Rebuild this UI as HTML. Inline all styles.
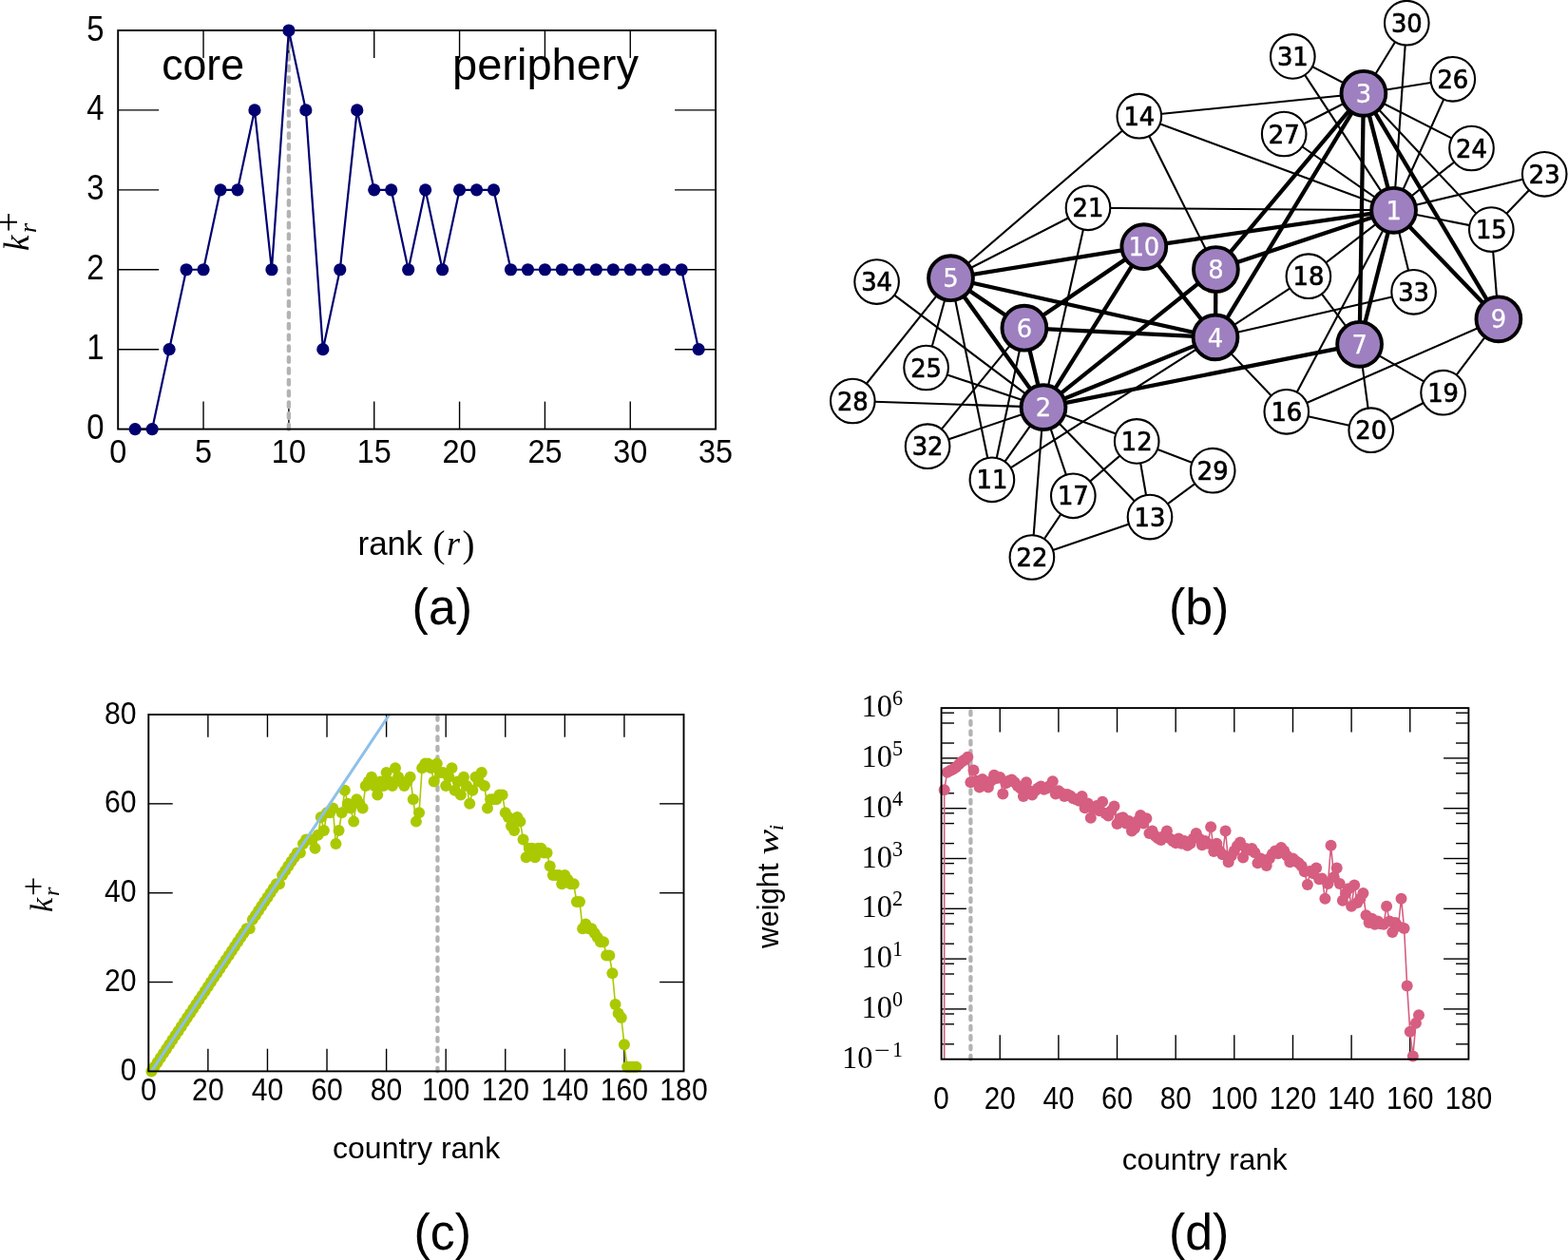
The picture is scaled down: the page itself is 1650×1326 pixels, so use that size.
<!DOCTYPE html>
<html><head><meta charset="utf-8"><title>Core-periphery figure</title>
<style>html,body{margin:0;padding:0;background:#fff;}svg{display:block;}</style></head>
<body><svg width="1650" height="1326" viewBox="0 0 1650 1326">
<rect width="1650" height="1326" fill="#fff"/>
<line x1="124.2" y1="367.68" x2="167.2" y2="367.68" stroke="#000" stroke-width="1.4" />
<line x1="753.1" y1="367.68" x2="710.1" y2="367.68" stroke="#000" stroke-width="1.4" />
<line x1="124.2" y1="283.76" x2="167.2" y2="283.76" stroke="#000" stroke-width="1.4" />
<line x1="753.1" y1="283.76" x2="710.1" y2="283.76" stroke="#000" stroke-width="1.4" />
<line x1="124.2" y1="199.84" x2="167.2" y2="199.84" stroke="#000" stroke-width="1.4" />
<line x1="753.1" y1="199.84" x2="710.1" y2="199.84" stroke="#000" stroke-width="1.4" />
<line x1="124.2" y1="115.92" x2="167.2" y2="115.92" stroke="#000" stroke-width="1.4" />
<line x1="753.1" y1="115.92" x2="710.1" y2="115.92" stroke="#000" stroke-width="1.4" />
<line x1="214.04" y1="451.6" x2="214.04" y2="422.6" stroke="#000" stroke-width="1.4" />
<line x1="214.04" y1="32" x2="214.04" y2="61" stroke="#000" stroke-width="1.4" />
<line x1="303.89" y1="451.6" x2="303.89" y2="422.6" stroke="#000" stroke-width="1.4" />
<line x1="303.89" y1="32" x2="303.89" y2="61" stroke="#000" stroke-width="1.4" />
<line x1="393.73" y1="451.6" x2="393.73" y2="422.6" stroke="#000" stroke-width="1.4" />
<line x1="393.73" y1="32" x2="393.73" y2="61" stroke="#000" stroke-width="1.4" />
<line x1="483.57" y1="451.6" x2="483.57" y2="422.6" stroke="#000" stroke-width="1.4" />
<line x1="483.57" y1="32" x2="483.57" y2="61" stroke="#000" stroke-width="1.4" />
<line x1="573.41" y1="451.6" x2="573.41" y2="422.6" stroke="#000" stroke-width="1.4" />
<line x1="573.41" y1="32" x2="573.41" y2="61" stroke="#000" stroke-width="1.4" />
<line x1="663.26" y1="451.6" x2="663.26" y2="422.6" stroke="#000" stroke-width="1.4" />
<line x1="663.26" y1="32" x2="663.26" y2="61" stroke="#000" stroke-width="1.4" />
<line x1="303.89" y1="451.6" x2="303.89" y2="32" stroke="#b3b3b3" stroke-width="4.4" stroke-dasharray="4.6 7.19" stroke-linecap="round"/>
<polyline points="142.17,451.6 160.14,451.6 178.11,367.68 196.07,283.76 214.04,283.76 232.01,199.84 249.98,199.84 267.95,115.92 285.92,283.76 303.89,32 321.85,115.92 339.82,367.68 357.79,283.76 375.76,115.92 393.73,199.84 411.7,199.84 429.67,283.76 447.63,199.84 465.6,283.76 483.57,199.84 501.54,199.84 519.51,199.84 537.48,283.76 555.45,283.76 573.41,283.76 591.38,283.76 609.35,283.76 627.32,283.76 645.29,283.76 663.26,283.76 681.23,283.76 699.19,283.76 717.16,283.76 735.13,367.68" fill="none" stroke="#000070" stroke-width="2.2" stroke-linejoin="round"/>
<rect x="124.2" y="32" width="628.9" height="419.6" fill="none" stroke="#000" stroke-width="1.9"/>
<circle cx="142.17" cy="451.6" r="6.6" fill="#000070"/>
<circle cx="160.14" cy="451.6" r="6.6" fill="#000070"/>
<circle cx="178.11" cy="367.68" r="6.6" fill="#000070"/>
<circle cx="196.07" cy="283.76" r="6.6" fill="#000070"/>
<circle cx="214.04" cy="283.76" r="6.6" fill="#000070"/>
<circle cx="232.01" cy="199.84" r="6.6" fill="#000070"/>
<circle cx="249.98" cy="199.84" r="6.6" fill="#000070"/>
<circle cx="267.95" cy="115.92" r="6.6" fill="#000070"/>
<circle cx="285.92" cy="283.76" r="6.6" fill="#000070"/>
<circle cx="303.89" cy="32" r="6.6" fill="#000070"/>
<circle cx="321.85" cy="115.92" r="6.6" fill="#000070"/>
<circle cx="339.82" cy="367.68" r="6.6" fill="#000070"/>
<circle cx="357.79" cy="283.76" r="6.6" fill="#000070"/>
<circle cx="375.76" cy="115.92" r="6.6" fill="#000070"/>
<circle cx="393.73" cy="199.84" r="6.6" fill="#000070"/>
<circle cx="411.7" cy="199.84" r="6.6" fill="#000070"/>
<circle cx="429.67" cy="283.76" r="6.6" fill="#000070"/>
<circle cx="447.63" cy="199.84" r="6.6" fill="#000070"/>
<circle cx="465.6" cy="283.76" r="6.6" fill="#000070"/>
<circle cx="483.57" cy="199.84" r="6.6" fill="#000070"/>
<circle cx="501.54" cy="199.84" r="6.6" fill="#000070"/>
<circle cx="519.51" cy="199.84" r="6.6" fill="#000070"/>
<circle cx="537.48" cy="283.76" r="6.6" fill="#000070"/>
<circle cx="555.45" cy="283.76" r="6.6" fill="#000070"/>
<circle cx="573.41" cy="283.76" r="6.6" fill="#000070"/>
<circle cx="591.38" cy="283.76" r="6.6" fill="#000070"/>
<circle cx="609.35" cy="283.76" r="6.6" fill="#000070"/>
<circle cx="627.32" cy="283.76" r="6.6" fill="#000070"/>
<circle cx="645.29" cy="283.76" r="6.6" fill="#000070"/>
<circle cx="663.26" cy="283.76" r="6.6" fill="#000070"/>
<circle cx="681.23" cy="283.76" r="6.6" fill="#000070"/>
<circle cx="699.19" cy="283.76" r="6.6" fill="#000070"/>
<circle cx="717.16" cy="283.76" r="6.6" fill="#000070"/>
<circle cx="735.13" cy="367.68" r="6.6" fill="#000070"/>
<text transform="translate(109.6,462.1) scale(0.9,1)" font-size="36.5" text-anchor="end" font-family="'Liberation Sans', sans-serif" >0</text>
<text transform="translate(109.6,378.18) scale(0.9,1)" font-size="36.5" text-anchor="end" font-family="'Liberation Sans', sans-serif" >1</text>
<text transform="translate(109.6,294.26) scale(0.9,1)" font-size="36.5" text-anchor="end" font-family="'Liberation Sans', sans-serif" >2</text>
<text transform="translate(109.6,210.34) scale(0.9,1)" font-size="36.5" text-anchor="end" font-family="'Liberation Sans', sans-serif" >3</text>
<text transform="translate(109.6,126.42) scale(0.9,1)" font-size="36.5" text-anchor="end" font-family="'Liberation Sans', sans-serif" >4</text>
<text transform="translate(109.6,42.5) scale(0.9,1)" font-size="36.5" text-anchor="end" font-family="'Liberation Sans', sans-serif" >5</text>
<text transform="translate(124.2,487.2) scale(0.9,1)" font-size="36" text-anchor="middle" font-family="'Liberation Sans', sans-serif" >0</text>
<text transform="translate(214.04,487.2) scale(0.9,1)" font-size="36" text-anchor="middle" font-family="'Liberation Sans', sans-serif" >5</text>
<text transform="translate(303.89,487.2) scale(0.9,1)" font-size="36" text-anchor="middle" font-family="'Liberation Sans', sans-serif" >10</text>
<text transform="translate(393.73,487.2) scale(0.9,1)" font-size="36" text-anchor="middle" font-family="'Liberation Sans', sans-serif" >15</text>
<text transform="translate(483.57,487.2) scale(0.9,1)" font-size="36" text-anchor="middle" font-family="'Liberation Sans', sans-serif" >20</text>
<text transform="translate(573.41,487.2) scale(0.9,1)" font-size="36" text-anchor="middle" font-family="'Liberation Sans', sans-serif" >25</text>
<text transform="translate(663.26,487.2) scale(0.9,1)" font-size="36" text-anchor="middle" font-family="'Liberation Sans', sans-serif" >30</text>
<text transform="translate(753.1,487.2) scale(0.9,1)" font-size="36" text-anchor="middle" font-family="'Liberation Sans', sans-serif" >35</text>
<text transform="translate(213.6,84) scale(0.95,1)" font-size="47" text-anchor="middle" font-family="'Liberation Sans', sans-serif" >core</text>
<text x="574" y="84" font-size="47" text-anchor="middle" font-family="'Liberation Sans', sans-serif" >periphery</text>
<text x="376.5" y="584" font-size="35" text-anchor="start" font-family="'Liberation Sans', sans-serif" >rank</text>
<text x="455.5" y="585.5" font-size="39" text-anchor="start" font-family="'Liberation Serif', serif" >(</text>
<text x="470" y="584" font-size="36" text-anchor="start" font-family="'Liberation Serif', serif" font-style="italic">r</text>
<text x="486.5" y="585.5" font-size="39" text-anchor="start" font-family="'Liberation Serif', serif" >)</text>
<text transform="translate(465.3,657.3) scale(0.96,1)" font-size="54" text-anchor="middle" font-family="'Liberation Sans', sans-serif" >(a)</text>
<g transform="translate(30,264) rotate(-90)"><text x="0" y="0" font-size="37" font-family="'Liberation Serif', serif" font-style="italic">k</text><text x="19" y="8" font-size="26" font-family="'Liberation Serif', serif" font-style="italic">r</text><text x="19.5" y="-8.5" font-size="38" font-family="'Liberation Serif', serif">+</text></g>
<line x1="1098" y1="428.6" x2="1085.9" y2="586.5" stroke="#000" stroke-width="2.1" />
<line x1="1098" y1="428.6" x2="1196.2" y2="464.4" stroke="#000" stroke-width="2.1" />
<line x1="1098" y1="428.6" x2="1210" y2="544.1" stroke="#000" stroke-width="2.1" />
<line x1="1098" y1="428.6" x2="1043.9" y2="504.8" stroke="#000" stroke-width="2.1" />
<line x1="1098" y1="428.6" x2="1129.3" y2="521.8" stroke="#000" stroke-width="2.1" />
<line x1="1098" y1="428.6" x2="922.6" y2="296.6" stroke="#000" stroke-width="2.1" />
<line x1="1098" y1="428.6" x2="976.1" y2="469.7" stroke="#000" stroke-width="2.1" />
<line x1="1098" y1="428.6" x2="974.6" y2="387" stroke="#000" stroke-width="2.1" />
<line x1="1098" y1="428.6" x2="1145" y2="218.8" stroke="#000" stroke-width="2.1" />
<line x1="1098" y1="428.6" x2="897.3" y2="422" stroke="#000" stroke-width="2.1" />
<line x1="1000.5" y1="292.7" x2="1043.9" y2="504.8" stroke="#000" stroke-width="2.1" />
<line x1="1000.5" y1="292.7" x2="974.6" y2="387" stroke="#000" stroke-width="2.1" />
<line x1="1000.5" y1="292.7" x2="1145" y2="218.8" stroke="#000" stroke-width="2.1" />
<line x1="1000.5" y1="292.7" x2="897.3" y2="422" stroke="#000" stroke-width="2.1" />
<line x1="1000.5" y1="292.7" x2="1198.8" y2="122.2" stroke="#000" stroke-width="2.1" />
<line x1="1279" y1="354.9" x2="1043.9" y2="504.8" stroke="#000" stroke-width="2.1" />
<line x1="1279" y1="354.9" x2="1487.6" y2="307.3" stroke="#000" stroke-width="2.1" />
<line x1="1279" y1="354.9" x2="1353.8" y2="433.3" stroke="#000" stroke-width="2.1" />
<line x1="1279" y1="354.9" x2="1376.9" y2="290.7" stroke="#000" stroke-width="2.1" />
<line x1="1077.9" y1="345.2" x2="1043.9" y2="504.8" stroke="#000" stroke-width="2.1" />
<line x1="1077.9" y1="345.2" x2="976.1" y2="469.7" stroke="#000" stroke-width="2.1" />
<line x1="1085.9" y1="586.5" x2="1210" y2="544.1" stroke="#000" stroke-width="2.1" />
<line x1="1085.9" y1="586.5" x2="1129.3" y2="521.8" stroke="#000" stroke-width="2.1" />
<line x1="1196.2" y1="464.4" x2="1210" y2="544.1" stroke="#000" stroke-width="2.1" />
<line x1="1196.2" y1="464.4" x2="1129.3" y2="521.8" stroke="#000" stroke-width="2.1" />
<line x1="1196.2" y1="464.4" x2="1276.2" y2="495.2" stroke="#000" stroke-width="2.1" />
<line x1="1210" y1="544.1" x2="1276.2" y2="495.2" stroke="#000" stroke-width="2.1" />
<line x1="1279.4" y1="283.5" x2="1198.8" y2="122.2" stroke="#000" stroke-width="2.1" />
<line x1="1487.6" y1="307.3" x2="1466.6" y2="221.3" stroke="#000" stroke-width="2.1" />
<line x1="1548.5" y1="156" x2="1434.9" y2="98.3" stroke="#000" stroke-width="2.1" />
<line x1="1548.5" y1="156" x2="1466.6" y2="221.3" stroke="#000" stroke-width="2.1" />
<line x1="1528.8" y1="83.3" x2="1434.9" y2="98.3" stroke="#000" stroke-width="2.1" />
<line x1="1528.8" y1="83.3" x2="1466.6" y2="221.3" stroke="#000" stroke-width="2.1" />
<line x1="1351.2" y1="141" x2="1434.9" y2="98.3" stroke="#000" stroke-width="2.1" />
<line x1="1351.2" y1="141" x2="1466.6" y2="221.3" stroke="#000" stroke-width="2.1" />
<line x1="1145" y1="218.8" x2="1466.6" y2="221.3" stroke="#000" stroke-width="2.1" />
<line x1="1480.3" y1="24.2" x2="1434.9" y2="98.3" stroke="#000" stroke-width="2.1" />
<line x1="1480.3" y1="24.2" x2="1466.6" y2="221.3" stroke="#000" stroke-width="2.1" />
<line x1="1360.3" y1="59.4" x2="1434.9" y2="98.3" stroke="#000" stroke-width="2.1" />
<line x1="1360.3" y1="59.4" x2="1466.6" y2="221.3" stroke="#000" stroke-width="2.1" />
<line x1="1576.9" y1="335.8" x2="1518.6" y2="413.2" stroke="#000" stroke-width="2.1" />
<line x1="1576.9" y1="335.8" x2="1353.8" y2="433.3" stroke="#000" stroke-width="2.1" />
<line x1="1576.9" y1="335.8" x2="1569.3" y2="241.6" stroke="#000" stroke-width="2.1" />
<line x1="1442.7" y1="452.7" x2="1518.6" y2="413.2" stroke="#000" stroke-width="2.1" />
<line x1="1442.7" y1="452.7" x2="1353.8" y2="433.3" stroke="#000" stroke-width="2.1" />
<line x1="1442.7" y1="452.7" x2="1430.6" y2="362.3" stroke="#000" stroke-width="2.1" />
<line x1="1518.6" y1="413.2" x2="1430.6" y2="362.3" stroke="#000" stroke-width="2.1" />
<line x1="1625.2" y1="183.3" x2="1569.3" y2="241.6" stroke="#000" stroke-width="2.1" />
<line x1="1625.2" y1="183.3" x2="1466.6" y2="221.3" stroke="#000" stroke-width="2.1" />
<line x1="1353.8" y1="433.3" x2="1466.6" y2="221.3" stroke="#000" stroke-width="2.1" />
<line x1="1376.9" y1="290.7" x2="1430.6" y2="362.3" stroke="#000" stroke-width="2.1" />
<line x1="1376.9" y1="290.7" x2="1466.6" y2="221.3" stroke="#000" stroke-width="2.1" />
<line x1="1569.3" y1="241.6" x2="1434.9" y2="98.3" stroke="#000" stroke-width="2.1" />
<line x1="1569.3" y1="241.6" x2="1466.6" y2="221.3" stroke="#000" stroke-width="2.1" />
<line x1="1198.8" y1="122.2" x2="1434.9" y2="98.3" stroke="#000" stroke-width="2.1" />
<line x1="1198.8" y1="122.2" x2="1466.6" y2="221.3" stroke="#000" stroke-width="2.1" />
<line x1="1098" y1="428.6" x2="1000.5" y2="292.7" stroke="#000" stroke-width="4.3" />
<line x1="1098" y1="428.6" x2="1279" y2="354.9" stroke="#000" stroke-width="4.3" />
<line x1="1098" y1="428.6" x2="1077.9" y2="345.2" stroke="#000" stroke-width="4.3" />
<line x1="1098" y1="428.6" x2="1279.4" y2="283.5" stroke="#000" stroke-width="4.3" />
<line x1="1098" y1="428.6" x2="1203.8" y2="259.6" stroke="#000" stroke-width="4.3" />
<line x1="1098" y1="428.6" x2="1430.6" y2="362.3" stroke="#000" stroke-width="4.3" />
<line x1="1000.5" y1="292.7" x2="1279" y2="354.9" stroke="#000" stroke-width="4.3" />
<line x1="1000.5" y1="292.7" x2="1077.9" y2="345.2" stroke="#000" stroke-width="4.3" />
<line x1="1000.5" y1="292.7" x2="1203.8" y2="259.6" stroke="#000" stroke-width="4.3" />
<line x1="1279" y1="354.9" x2="1077.9" y2="345.2" stroke="#000" stroke-width="4.3" />
<line x1="1279" y1="354.9" x2="1279.4" y2="283.5" stroke="#000" stroke-width="4.3" />
<line x1="1279" y1="354.9" x2="1203.8" y2="259.6" stroke="#000" stroke-width="4.3" />
<line x1="1279" y1="354.9" x2="1434.9" y2="98.3" stroke="#000" stroke-width="4.3" />
<line x1="1077.9" y1="345.2" x2="1203.8" y2="259.6" stroke="#000" stroke-width="4.3" />
<line x1="1279.4" y1="283.5" x2="1434.9" y2="98.3" stroke="#000" stroke-width="4.3" />
<line x1="1279.4" y1="283.5" x2="1466.6" y2="221.3" stroke="#000" stroke-width="4.3" />
<line x1="1203.8" y1="259.6" x2="1466.6" y2="221.3" stroke="#000" stroke-width="4.3" />
<line x1="1576.9" y1="335.8" x2="1434.9" y2="98.3" stroke="#000" stroke-width="4.3" />
<line x1="1576.9" y1="335.8" x2="1466.6" y2="221.3" stroke="#000" stroke-width="4.3" />
<line x1="1430.6" y1="362.3" x2="1434.9" y2="98.3" stroke="#000" stroke-width="4.3" />
<line x1="1430.6" y1="362.3" x2="1466.6" y2="221.3" stroke="#000" stroke-width="4.3" />
<line x1="1434.9" y1="98.3" x2="1466.6" y2="221.3" stroke="#000" stroke-width="4.3" />
<circle cx="1466.6" cy="221.3" r="23.4" fill="#9e80c0" stroke="#000" stroke-width="3.9"/>
<text x="1466.6" y="230.9" font-size="25.8" text-anchor="middle" font-family="'DejaVu Sans', sans-serif" fill="#fff" stroke="#fff" stroke-width="0.25">1</text>
<circle cx="1098" cy="428.6" r="23.4" fill="#9e80c0" stroke="#000" stroke-width="3.9"/>
<text x="1098" y="438.2" font-size="25.8" text-anchor="middle" font-family="'DejaVu Sans', sans-serif" fill="#fff" stroke="#fff" stroke-width="0.25">2</text>
<circle cx="1434.9" cy="98.3" r="23.4" fill="#9e80c0" stroke="#000" stroke-width="3.9"/>
<text x="1434.9" y="107.9" font-size="25.8" text-anchor="middle" font-family="'DejaVu Sans', sans-serif" fill="#fff" stroke="#fff" stroke-width="0.25">3</text>
<circle cx="1279" cy="354.9" r="23.4" fill="#9e80c0" stroke="#000" stroke-width="3.9"/>
<text x="1279" y="364.5" font-size="25.8" text-anchor="middle" font-family="'DejaVu Sans', sans-serif" fill="#fff" stroke="#fff" stroke-width="0.25">4</text>
<circle cx="1000.5" cy="292.7" r="23.4" fill="#9e80c0" stroke="#000" stroke-width="3.9"/>
<text x="1000.5" y="302.3" font-size="25.8" text-anchor="middle" font-family="'DejaVu Sans', sans-serif" fill="#fff" stroke="#fff" stroke-width="0.25">5</text>
<circle cx="1077.9" cy="345.2" r="23.4" fill="#9e80c0" stroke="#000" stroke-width="3.9"/>
<text x="1077.9" y="354.8" font-size="25.8" text-anchor="middle" font-family="'DejaVu Sans', sans-serif" fill="#fff" stroke="#fff" stroke-width="0.25">6</text>
<circle cx="1430.6" cy="362.3" r="23.4" fill="#9e80c0" stroke="#000" stroke-width="3.9"/>
<text x="1430.6" y="371.9" font-size="25.8" text-anchor="middle" font-family="'DejaVu Sans', sans-serif" fill="#fff" stroke="#fff" stroke-width="0.25">7</text>
<circle cx="1279.4" cy="283.5" r="23.4" fill="#9e80c0" stroke="#000" stroke-width="3.9"/>
<text x="1279.4" y="293.1" font-size="25.8" text-anchor="middle" font-family="'DejaVu Sans', sans-serif" fill="#fff" stroke="#fff" stroke-width="0.25">8</text>
<circle cx="1576.9" cy="335.8" r="23.4" fill="#9e80c0" stroke="#000" stroke-width="3.9"/>
<text x="1576.9" y="345.4" font-size="25.8" text-anchor="middle" font-family="'DejaVu Sans', sans-serif" fill="#fff" stroke="#fff" stroke-width="0.25">9</text>
<circle cx="1203.8" cy="259.6" r="23.4" fill="#9e80c0" stroke="#000" stroke-width="3.9"/>
<text x="1203.8" y="269.2" font-size="25.8" text-anchor="middle" font-family="'DejaVu Sans', sans-serif" fill="#fff" stroke="#fff" stroke-width="0.25">10</text>
<circle cx="1043.9" cy="504.8" r="23.3" fill="#fff" stroke="#000" stroke-width="2.1"/>
<text x="1043.9" y="514.4" font-size="25.8" text-anchor="middle" font-family="'DejaVu Sans', sans-serif" fill="#000" stroke="#000" stroke-width="0.7">11</text>
<circle cx="1196.2" cy="464.4" r="23.3" fill="#fff" stroke="#000" stroke-width="2.1"/>
<text x="1196.2" y="474" font-size="25.8" text-anchor="middle" font-family="'DejaVu Sans', sans-serif" fill="#000" stroke="#000" stroke-width="0.7">12</text>
<circle cx="1210" cy="544.1" r="23.3" fill="#fff" stroke="#000" stroke-width="2.1"/>
<text x="1210" y="553.7" font-size="25.8" text-anchor="middle" font-family="'DejaVu Sans', sans-serif" fill="#000" stroke="#000" stroke-width="0.7">13</text>
<circle cx="1198.8" cy="122.2" r="23.3" fill="#fff" stroke="#000" stroke-width="2.1"/>
<text x="1198.8" y="131.8" font-size="25.8" text-anchor="middle" font-family="'DejaVu Sans', sans-serif" fill="#000" stroke="#000" stroke-width="0.7">14</text>
<circle cx="1569.3" cy="241.6" r="23.3" fill="#fff" stroke="#000" stroke-width="2.1"/>
<text x="1569.3" y="251.2" font-size="25.8" text-anchor="middle" font-family="'DejaVu Sans', sans-serif" fill="#000" stroke="#000" stroke-width="0.7">15</text>
<circle cx="1353.8" cy="433.3" r="23.3" fill="#fff" stroke="#000" stroke-width="2.1"/>
<text x="1353.8" y="442.9" font-size="25.8" text-anchor="middle" font-family="'DejaVu Sans', sans-serif" fill="#000" stroke="#000" stroke-width="0.7">16</text>
<circle cx="1129.3" cy="521.8" r="23.3" fill="#fff" stroke="#000" stroke-width="2.1"/>
<text x="1129.3" y="531.4" font-size="25.8" text-anchor="middle" font-family="'DejaVu Sans', sans-serif" fill="#000" stroke="#000" stroke-width="0.7">17</text>
<circle cx="1376.9" cy="290.7" r="23.3" fill="#fff" stroke="#000" stroke-width="2.1"/>
<text x="1376.9" y="300.3" font-size="25.8" text-anchor="middle" font-family="'DejaVu Sans', sans-serif" fill="#000" stroke="#000" stroke-width="0.7">18</text>
<circle cx="1518.6" cy="413.2" r="23.3" fill="#fff" stroke="#000" stroke-width="2.1"/>
<text x="1518.6" y="422.8" font-size="25.8" text-anchor="middle" font-family="'DejaVu Sans', sans-serif" fill="#000" stroke="#000" stroke-width="0.7">19</text>
<circle cx="1442.7" cy="452.7" r="23.3" fill="#fff" stroke="#000" stroke-width="2.1"/>
<text x="1442.7" y="462.3" font-size="25.8" text-anchor="middle" font-family="'DejaVu Sans', sans-serif" fill="#000" stroke="#000" stroke-width="0.7">20</text>
<circle cx="1145" cy="218.8" r="23.3" fill="#fff" stroke="#000" stroke-width="2.1"/>
<text x="1145" y="228.4" font-size="25.8" text-anchor="middle" font-family="'DejaVu Sans', sans-serif" fill="#000" stroke="#000" stroke-width="0.7">21</text>
<circle cx="1085.9" cy="586.5" r="23.3" fill="#fff" stroke="#000" stroke-width="2.1"/>
<text x="1085.9" y="596.1" font-size="25.8" text-anchor="middle" font-family="'DejaVu Sans', sans-serif" fill="#000" stroke="#000" stroke-width="0.7">22</text>
<circle cx="1625.2" cy="183.3" r="23.3" fill="#fff" stroke="#000" stroke-width="2.1"/>
<text x="1625.2" y="192.9" font-size="25.8" text-anchor="middle" font-family="'DejaVu Sans', sans-serif" fill="#000" stroke="#000" stroke-width="0.7">23</text>
<circle cx="1548.5" cy="156" r="23.3" fill="#fff" stroke="#000" stroke-width="2.1"/>
<text x="1548.5" y="165.6" font-size="25.8" text-anchor="middle" font-family="'DejaVu Sans', sans-serif" fill="#000" stroke="#000" stroke-width="0.7">24</text>
<circle cx="974.6" cy="387" r="23.3" fill="#fff" stroke="#000" stroke-width="2.1"/>
<text x="974.6" y="396.6" font-size="25.8" text-anchor="middle" font-family="'DejaVu Sans', sans-serif" fill="#000" stroke="#000" stroke-width="0.7">25</text>
<circle cx="1528.8" cy="83.3" r="23.3" fill="#fff" stroke="#000" stroke-width="2.1"/>
<text x="1528.8" y="92.9" font-size="25.8" text-anchor="middle" font-family="'DejaVu Sans', sans-serif" fill="#000" stroke="#000" stroke-width="0.7">26</text>
<circle cx="1351.2" cy="141" r="23.3" fill="#fff" stroke="#000" stroke-width="2.1"/>
<text x="1351.2" y="150.6" font-size="25.8" text-anchor="middle" font-family="'DejaVu Sans', sans-serif" fill="#000" stroke="#000" stroke-width="0.7">27</text>
<circle cx="897.3" cy="422" r="23.3" fill="#fff" stroke="#000" stroke-width="2.1"/>
<text x="897.3" y="431.6" font-size="25.8" text-anchor="middle" font-family="'DejaVu Sans', sans-serif" fill="#000" stroke="#000" stroke-width="0.7">28</text>
<circle cx="1276.2" cy="495.2" r="23.3" fill="#fff" stroke="#000" stroke-width="2.1"/>
<text x="1276.2" y="504.8" font-size="25.8" text-anchor="middle" font-family="'DejaVu Sans', sans-serif" fill="#000" stroke="#000" stroke-width="0.7">29</text>
<circle cx="1480.3" cy="24.2" r="23.3" fill="#fff" stroke="#000" stroke-width="2.1"/>
<text x="1480.3" y="33.8" font-size="25.8" text-anchor="middle" font-family="'DejaVu Sans', sans-serif" fill="#000" stroke="#000" stroke-width="0.7">30</text>
<circle cx="1360.3" cy="59.4" r="23.3" fill="#fff" stroke="#000" stroke-width="2.1"/>
<text x="1360.3" y="69" font-size="25.8" text-anchor="middle" font-family="'DejaVu Sans', sans-serif" fill="#000" stroke="#000" stroke-width="0.7">31</text>
<circle cx="976.1" cy="469.7" r="23.3" fill="#fff" stroke="#000" stroke-width="2.1"/>
<text x="976.1" y="479.3" font-size="25.8" text-anchor="middle" font-family="'DejaVu Sans', sans-serif" fill="#000" stroke="#000" stroke-width="0.7">32</text>
<circle cx="1487.6" cy="307.3" r="23.3" fill="#fff" stroke="#000" stroke-width="2.1"/>
<text x="1487.6" y="316.9" font-size="25.8" text-anchor="middle" font-family="'DejaVu Sans', sans-serif" fill="#000" stroke="#000" stroke-width="0.7">33</text>
<circle cx="922.6" cy="296.6" r="23.3" fill="#fff" stroke="#000" stroke-width="2.1"/>
<text x="922.6" y="306.2" font-size="25.8" text-anchor="middle" font-family="'DejaVu Sans', sans-serif" fill="#000" stroke="#000" stroke-width="0.7">34</text>
<text transform="translate(1261.7,657.3) scale(0.96,1)" font-size="54" text-anchor="middle" font-family="'Liberation Sans', sans-serif" >(b)</text>
<line x1="156.3" y1="1033.55" x2="181.7" y2="1033.55" stroke="#000" stroke-width="1.4" />
<line x1="719.5" y1="1033.55" x2="694.1" y2="1033.55" stroke="#000" stroke-width="1.4" />
<line x1="156.3" y1="939.7" x2="181.7" y2="939.7" stroke="#000" stroke-width="1.4" />
<line x1="719.5" y1="939.7" x2="694.1" y2="939.7" stroke="#000" stroke-width="1.4" />
<line x1="156.3" y1="845.85" x2="181.7" y2="845.85" stroke="#000" stroke-width="1.4" />
<line x1="719.5" y1="845.85" x2="694.1" y2="845.85" stroke="#000" stroke-width="1.4" />
<line x1="218.88" y1="1127.4" x2="218.88" y2="1103.7" stroke="#000" stroke-width="1.4" />
<line x1="218.88" y1="752" x2="218.88" y2="775.7" stroke="#000" stroke-width="1.4" />
<line x1="281.46" y1="1127.4" x2="281.46" y2="1103.7" stroke="#000" stroke-width="1.4" />
<line x1="281.46" y1="752" x2="281.46" y2="775.7" stroke="#000" stroke-width="1.4" />
<line x1="344.03" y1="1127.4" x2="344.03" y2="1103.7" stroke="#000" stroke-width="1.4" />
<line x1="344.03" y1="752" x2="344.03" y2="775.7" stroke="#000" stroke-width="1.4" />
<line x1="406.61" y1="1127.4" x2="406.61" y2="1103.7" stroke="#000" stroke-width="1.4" />
<line x1="406.61" y1="752" x2="406.61" y2="775.7" stroke="#000" stroke-width="1.4" />
<line x1="469.19" y1="1127.4" x2="469.19" y2="1103.7" stroke="#000" stroke-width="1.4" />
<line x1="469.19" y1="752" x2="469.19" y2="775.7" stroke="#000" stroke-width="1.4" />
<line x1="531.77" y1="1127.4" x2="531.77" y2="1103.7" stroke="#000" stroke-width="1.4" />
<line x1="531.77" y1="752" x2="531.77" y2="775.7" stroke="#000" stroke-width="1.4" />
<line x1="594.34" y1="1127.4" x2="594.34" y2="1103.7" stroke="#000" stroke-width="1.4" />
<line x1="594.34" y1="752" x2="594.34" y2="775.7" stroke="#000" stroke-width="1.4" />
<line x1="656.92" y1="1127.4" x2="656.92" y2="1103.7" stroke="#000" stroke-width="1.4" />
<line x1="656.92" y1="752" x2="656.92" y2="775.7" stroke="#000" stroke-width="1.4" />
<line x1="460.43" y1="1127.4" x2="460.43" y2="752" stroke="#b3b3b3" stroke-width="4.3" stroke-dasharray="3.6 6.96" stroke-linecap="round"/>
<polyline points="159.43,1127.4 162.56,1122.71 165.69,1118.02 168.82,1113.32 171.94,1108.63 175.07,1103.94 178.2,1099.25 181.33,1094.55 184.46,1089.86 187.59,1085.17 190.72,1080.48 193.85,1075.78 196.98,1071.09 200.1,1066.4 203.23,1061.71 206.36,1057.01 209.49,1052.32 212.62,1047.63 215.75,1042.94 218.88,1038.24 222.01,1033.55 225.14,1028.86 228.26,1024.16 231.39,1019.47 234.52,1014.78 237.65,1010.09 240.78,1005.4 243.91,1000.7 247.04,996.01 250.17,991.32 253.3,986.62 256.42,981.93 259.55,977.24 262.68,977.24 265.81,967.86 268.94,963.16 272.07,958.47 275.2,953.78 278.33,949.09 281.46,944.39 284.58,939.7 287.71,935.01 290.84,930.32 293.97,930.32 297.1,920.93 300.23,916.24 303.36,911.55 306.49,906.85 309.62,902.16 312.74,897.47 315.87,897.47 319,888.08 322.13,883.39 325.26,883.39 328.39,883.39 331.52,892.78 334.65,878.7 337.78,859.93 340.9,874 344.03,855.24 347.16,855.24 350.29,850.54 353.42,888.08 356.55,874 359.68,855.24 362.81,831.77 365.94,845.85 369.06,850.54 372.19,864.62 375.32,841.16 378.45,845.85 381.58,850.54 384.71,827.08 387.84,822.39 390.97,817.7 394.1,827.08 397.22,836.47 400.35,822.39 403.48,827.08 406.61,813 409.74,822.39 412.87,827.08 416,808.31 419.13,817.7 422.26,822.39 425.38,827.08 428.51,822.39 431.64,817.7 434.77,841.16 437.9,864.62 441.03,855.24 444.16,808.31 447.29,803.62 450.42,803.62 453.54,808.31 456.67,822.39 459.8,803.62 462.93,813 466.06,813 469.19,827.08 472.32,817.7 475.45,808.31 478.58,831.77 481.7,822.39 484.83,836.47 487.96,817.7 491.09,827.08 494.22,845.85 497.35,831.77 500.48,817.7 503.61,822.39 506.74,813 509.86,827.08 512.99,850.54 516.12,841.16 519.25,841.16 522.38,841.16 525.51,836.47 528.64,836.47 531.77,855.24 534.9,859.93 538.02,869.31 541.15,874 544.28,859.93 547.41,864.62 550.54,883.39 553.67,902.16 556.8,892.78 559.93,892.78 563.06,902.16 566.18,892.78 569.31,892.78 572.44,897.47 575.57,897.47 578.7,911.55 581.83,920.93 584.96,920.93 588.09,920.93 591.22,930.32 594.34,920.93 597.47,925.62 600.6,930.32 603.73,930.32 606.86,949.09 609.99,949.09 613.12,977.24 616.25,972.55 619.38,977.24 622.5,977.24 625.63,981.93 628.76,986.62 631.89,991.32 635.02,991.32 638.15,1005.4 641.28,1005.4 644.41,1024.16 647.54,1057.01 650.66,1066.4 653.79,1071.09 656.92,1099.25 660.05,1122.71 663.18,1122.71 666.31,1122.71 669.44,1122.71" fill="none" stroke="#abc900" stroke-width="1.6" stroke-linejoin="round"/>
<circle cx="159.43" cy="1127.4" r="6" fill="#abc900"/>
<circle cx="162.56" cy="1122.71" r="6" fill="#abc900"/>
<circle cx="165.69" cy="1118.02" r="6" fill="#abc900"/>
<circle cx="168.82" cy="1113.32" r="6" fill="#abc900"/>
<circle cx="171.94" cy="1108.63" r="6" fill="#abc900"/>
<circle cx="175.07" cy="1103.94" r="6" fill="#abc900"/>
<circle cx="178.2" cy="1099.25" r="6" fill="#abc900"/>
<circle cx="181.33" cy="1094.55" r="6" fill="#abc900"/>
<circle cx="184.46" cy="1089.86" r="6" fill="#abc900"/>
<circle cx="187.59" cy="1085.17" r="6" fill="#abc900"/>
<circle cx="190.72" cy="1080.48" r="6" fill="#abc900"/>
<circle cx="193.85" cy="1075.78" r="6" fill="#abc900"/>
<circle cx="196.98" cy="1071.09" r="6" fill="#abc900"/>
<circle cx="200.1" cy="1066.4" r="6" fill="#abc900"/>
<circle cx="203.23" cy="1061.71" r="6" fill="#abc900"/>
<circle cx="206.36" cy="1057.01" r="6" fill="#abc900"/>
<circle cx="209.49" cy="1052.32" r="6" fill="#abc900"/>
<circle cx="212.62" cy="1047.63" r="6" fill="#abc900"/>
<circle cx="215.75" cy="1042.94" r="6" fill="#abc900"/>
<circle cx="218.88" cy="1038.24" r="6" fill="#abc900"/>
<circle cx="222.01" cy="1033.55" r="6" fill="#abc900"/>
<circle cx="225.14" cy="1028.86" r="6" fill="#abc900"/>
<circle cx="228.26" cy="1024.16" r="6" fill="#abc900"/>
<circle cx="231.39" cy="1019.47" r="6" fill="#abc900"/>
<circle cx="234.52" cy="1014.78" r="6" fill="#abc900"/>
<circle cx="237.65" cy="1010.09" r="6" fill="#abc900"/>
<circle cx="240.78" cy="1005.4" r="6" fill="#abc900"/>
<circle cx="243.91" cy="1000.7" r="6" fill="#abc900"/>
<circle cx="247.04" cy="996.01" r="6" fill="#abc900"/>
<circle cx="250.17" cy="991.32" r="6" fill="#abc900"/>
<circle cx="253.3" cy="986.62" r="6" fill="#abc900"/>
<circle cx="256.42" cy="981.93" r="6" fill="#abc900"/>
<circle cx="259.55" cy="977.24" r="6" fill="#abc900"/>
<circle cx="262.68" cy="977.24" r="6" fill="#abc900"/>
<circle cx="265.81" cy="967.86" r="6" fill="#abc900"/>
<circle cx="268.94" cy="963.16" r="6" fill="#abc900"/>
<circle cx="272.07" cy="958.47" r="6" fill="#abc900"/>
<circle cx="275.2" cy="953.78" r="6" fill="#abc900"/>
<circle cx="278.33" cy="949.09" r="6" fill="#abc900"/>
<circle cx="281.46" cy="944.39" r="6" fill="#abc900"/>
<circle cx="284.58" cy="939.7" r="6" fill="#abc900"/>
<circle cx="287.71" cy="935.01" r="6" fill="#abc900"/>
<circle cx="290.84" cy="930.32" r="6" fill="#abc900"/>
<circle cx="293.97" cy="930.32" r="6" fill="#abc900"/>
<circle cx="297.1" cy="920.93" r="6" fill="#abc900"/>
<circle cx="300.23" cy="916.24" r="6" fill="#abc900"/>
<circle cx="303.36" cy="911.55" r="6" fill="#abc900"/>
<circle cx="306.49" cy="906.85" r="6" fill="#abc900"/>
<circle cx="309.62" cy="902.16" r="6" fill="#abc900"/>
<circle cx="312.74" cy="897.47" r="6" fill="#abc900"/>
<circle cx="315.87" cy="897.47" r="6" fill="#abc900"/>
<circle cx="319" cy="888.08" r="6" fill="#abc900"/>
<circle cx="322.13" cy="883.39" r="6" fill="#abc900"/>
<circle cx="325.26" cy="883.39" r="6" fill="#abc900"/>
<circle cx="328.39" cy="883.39" r="6" fill="#abc900"/>
<circle cx="331.52" cy="892.78" r="6" fill="#abc900"/>
<circle cx="334.65" cy="878.7" r="6" fill="#abc900"/>
<circle cx="337.78" cy="859.93" r="6" fill="#abc900"/>
<circle cx="340.9" cy="874" r="6" fill="#abc900"/>
<circle cx="344.03" cy="855.24" r="6" fill="#abc900"/>
<circle cx="347.16" cy="855.24" r="6" fill="#abc900"/>
<circle cx="350.29" cy="850.54" r="6" fill="#abc900"/>
<circle cx="353.42" cy="888.08" r="6" fill="#abc900"/>
<circle cx="356.55" cy="874" r="6" fill="#abc900"/>
<circle cx="359.68" cy="855.24" r="6" fill="#abc900"/>
<circle cx="362.81" cy="831.77" r="6" fill="#abc900"/>
<circle cx="365.94" cy="845.85" r="6" fill="#abc900"/>
<circle cx="369.06" cy="850.54" r="6" fill="#abc900"/>
<circle cx="372.19" cy="864.62" r="6" fill="#abc900"/>
<circle cx="375.32" cy="841.16" r="6" fill="#abc900"/>
<circle cx="378.45" cy="845.85" r="6" fill="#abc900"/>
<circle cx="381.58" cy="850.54" r="6" fill="#abc900"/>
<circle cx="384.71" cy="827.08" r="6" fill="#abc900"/>
<circle cx="387.84" cy="822.39" r="6" fill="#abc900"/>
<circle cx="390.97" cy="817.7" r="6" fill="#abc900"/>
<circle cx="394.1" cy="827.08" r="6" fill="#abc900"/>
<circle cx="397.22" cy="836.47" r="6" fill="#abc900"/>
<circle cx="400.35" cy="822.39" r="6" fill="#abc900"/>
<circle cx="403.48" cy="827.08" r="6" fill="#abc900"/>
<circle cx="406.61" cy="813" r="6" fill="#abc900"/>
<circle cx="409.74" cy="822.39" r="6" fill="#abc900"/>
<circle cx="412.87" cy="827.08" r="6" fill="#abc900"/>
<circle cx="416" cy="808.31" r="6" fill="#abc900"/>
<circle cx="419.13" cy="817.7" r="6" fill="#abc900"/>
<circle cx="422.26" cy="822.39" r="6" fill="#abc900"/>
<circle cx="425.38" cy="827.08" r="6" fill="#abc900"/>
<circle cx="428.51" cy="822.39" r="6" fill="#abc900"/>
<circle cx="431.64" cy="817.7" r="6" fill="#abc900"/>
<circle cx="434.77" cy="841.16" r="6" fill="#abc900"/>
<circle cx="437.9" cy="864.62" r="6" fill="#abc900"/>
<circle cx="441.03" cy="855.24" r="6" fill="#abc900"/>
<circle cx="444.16" cy="808.31" r="6" fill="#abc900"/>
<circle cx="447.29" cy="803.62" r="6" fill="#abc900"/>
<circle cx="450.42" cy="803.62" r="6" fill="#abc900"/>
<circle cx="453.54" cy="808.31" r="6" fill="#abc900"/>
<circle cx="456.67" cy="822.39" r="6" fill="#abc900"/>
<circle cx="459.8" cy="803.62" r="6" fill="#abc900"/>
<circle cx="462.93" cy="813" r="6" fill="#abc900"/>
<circle cx="466.06" cy="813" r="6" fill="#abc900"/>
<circle cx="469.19" cy="827.08" r="6" fill="#abc900"/>
<circle cx="472.32" cy="817.7" r="6" fill="#abc900"/>
<circle cx="475.45" cy="808.31" r="6" fill="#abc900"/>
<circle cx="478.58" cy="831.77" r="6" fill="#abc900"/>
<circle cx="481.7" cy="822.39" r="6" fill="#abc900"/>
<circle cx="484.83" cy="836.47" r="6" fill="#abc900"/>
<circle cx="487.96" cy="817.7" r="6" fill="#abc900"/>
<circle cx="491.09" cy="827.08" r="6" fill="#abc900"/>
<circle cx="494.22" cy="845.85" r="6" fill="#abc900"/>
<circle cx="497.35" cy="831.77" r="6" fill="#abc900"/>
<circle cx="500.48" cy="817.7" r="6" fill="#abc900"/>
<circle cx="503.61" cy="822.39" r="6" fill="#abc900"/>
<circle cx="506.74" cy="813" r="6" fill="#abc900"/>
<circle cx="509.86" cy="827.08" r="6" fill="#abc900"/>
<circle cx="512.99" cy="850.54" r="6" fill="#abc900"/>
<circle cx="516.12" cy="841.16" r="6" fill="#abc900"/>
<circle cx="519.25" cy="841.16" r="6" fill="#abc900"/>
<circle cx="522.38" cy="841.16" r="6" fill="#abc900"/>
<circle cx="525.51" cy="836.47" r="6" fill="#abc900"/>
<circle cx="528.64" cy="836.47" r="6" fill="#abc900"/>
<circle cx="531.77" cy="855.24" r="6" fill="#abc900"/>
<circle cx="534.9" cy="859.93" r="6" fill="#abc900"/>
<circle cx="538.02" cy="869.31" r="6" fill="#abc900"/>
<circle cx="541.15" cy="874" r="6" fill="#abc900"/>
<circle cx="544.28" cy="859.93" r="6" fill="#abc900"/>
<circle cx="547.41" cy="864.62" r="6" fill="#abc900"/>
<circle cx="550.54" cy="883.39" r="6" fill="#abc900"/>
<circle cx="553.67" cy="902.16" r="6" fill="#abc900"/>
<circle cx="556.8" cy="892.78" r="6" fill="#abc900"/>
<circle cx="559.93" cy="892.78" r="6" fill="#abc900"/>
<circle cx="563.06" cy="902.16" r="6" fill="#abc900"/>
<circle cx="566.18" cy="892.78" r="6" fill="#abc900"/>
<circle cx="569.31" cy="892.78" r="6" fill="#abc900"/>
<circle cx="572.44" cy="897.47" r="6" fill="#abc900"/>
<circle cx="575.57" cy="897.47" r="6" fill="#abc900"/>
<circle cx="578.7" cy="911.55" r="6" fill="#abc900"/>
<circle cx="581.83" cy="920.93" r="6" fill="#abc900"/>
<circle cx="584.96" cy="920.93" r="6" fill="#abc900"/>
<circle cx="588.09" cy="920.93" r="6" fill="#abc900"/>
<circle cx="591.22" cy="930.32" r="6" fill="#abc900"/>
<circle cx="594.34" cy="920.93" r="6" fill="#abc900"/>
<circle cx="597.47" cy="925.62" r="6" fill="#abc900"/>
<circle cx="600.6" cy="930.32" r="6" fill="#abc900"/>
<circle cx="603.73" cy="930.32" r="6" fill="#abc900"/>
<circle cx="606.86" cy="949.09" r="6" fill="#abc900"/>
<circle cx="609.99" cy="949.09" r="6" fill="#abc900"/>
<circle cx="613.12" cy="977.24" r="6" fill="#abc900"/>
<circle cx="616.25" cy="972.55" r="6" fill="#abc900"/>
<circle cx="619.38" cy="977.24" r="6" fill="#abc900"/>
<circle cx="622.5" cy="977.24" r="6" fill="#abc900"/>
<circle cx="625.63" cy="981.93" r="6" fill="#abc900"/>
<circle cx="628.76" cy="986.62" r="6" fill="#abc900"/>
<circle cx="631.89" cy="991.32" r="6" fill="#abc900"/>
<circle cx="635.02" cy="991.32" r="6" fill="#abc900"/>
<circle cx="638.15" cy="1005.4" r="6" fill="#abc900"/>
<circle cx="641.28" cy="1005.4" r="6" fill="#abc900"/>
<circle cx="644.41" cy="1024.16" r="6" fill="#abc900"/>
<circle cx="647.54" cy="1057.01" r="6" fill="#abc900"/>
<circle cx="650.66" cy="1066.4" r="6" fill="#abc900"/>
<circle cx="653.79" cy="1071.09" r="6" fill="#abc900"/>
<circle cx="656.92" cy="1099.25" r="6" fill="#abc900"/>
<circle cx="660.05" cy="1122.71" r="6" fill="#abc900"/>
<circle cx="663.18" cy="1122.71" r="6" fill="#abc900"/>
<circle cx="666.31" cy="1122.71" r="6" fill="#abc900"/>
<circle cx="669.44" cy="1122.71" r="6" fill="#abc900"/>
<line x1="159.43" y1="1127.4" x2="409.74" y2="752" stroke="#8ec0ea" stroke-width="3"/>
<rect x="156.3" y="752" width="563.2" height="375.4" fill="none" stroke="#000" stroke-width="1.9"/>
<text transform="translate(143.6,1136.9) scale(0.9,1)" font-size="33.5" text-anchor="end" font-family="'Liberation Sans', sans-serif" >0</text>
<text transform="translate(143.6,1043.05) scale(0.9,1)" font-size="33.5" text-anchor="end" font-family="'Liberation Sans', sans-serif" >20</text>
<text transform="translate(143.6,949.2) scale(0.9,1)" font-size="33.5" text-anchor="end" font-family="'Liberation Sans', sans-serif" >40</text>
<text transform="translate(143.6,855.35) scale(0.9,1)" font-size="33.5" text-anchor="end" font-family="'Liberation Sans', sans-serif" >60</text>
<text transform="translate(143.6,761.5) scale(0.9,1)" font-size="33.5" text-anchor="end" font-family="'Liberation Sans', sans-serif" >80</text>
<text transform="translate(156.3,1158) scale(0.9,1)" font-size="33.5" text-anchor="middle" font-family="'Liberation Sans', sans-serif" >0</text>
<text transform="translate(218.88,1158) scale(0.9,1)" font-size="33.5" text-anchor="middle" font-family="'Liberation Sans', sans-serif" >20</text>
<text transform="translate(281.46,1158) scale(0.9,1)" font-size="33.5" text-anchor="middle" font-family="'Liberation Sans', sans-serif" >40</text>
<text transform="translate(344.03,1158) scale(0.9,1)" font-size="33.5" text-anchor="middle" font-family="'Liberation Sans', sans-serif" >60</text>
<text transform="translate(406.61,1158) scale(0.9,1)" font-size="33.5" text-anchor="middle" font-family="'Liberation Sans', sans-serif" >80</text>
<text transform="translate(469.19,1158) scale(0.9,1)" font-size="33.5" text-anchor="middle" font-family="'Liberation Sans', sans-serif" >100</text>
<text transform="translate(531.77,1158) scale(0.9,1)" font-size="33.5" text-anchor="middle" font-family="'Liberation Sans', sans-serif" >120</text>
<text transform="translate(594.34,1158) scale(0.9,1)" font-size="33.5" text-anchor="middle" font-family="'Liberation Sans', sans-serif" >140</text>
<text transform="translate(656.92,1158) scale(0.9,1)" font-size="33.5" text-anchor="middle" font-family="'Liberation Sans', sans-serif" >160</text>
<text transform="translate(719.5,1158) scale(0.9,1)" font-size="33.5" text-anchor="middle" font-family="'Liberation Sans', sans-serif" >180</text>
<text transform="translate(438.1,1219) scale(1.0,1)" font-size="32" text-anchor="middle" font-family="'Liberation Sans', sans-serif" >country rank</text>
<text transform="translate(465.75,1314.7) scale(0.96,1)" font-size="54" text-anchor="middle" font-family="'Liberation Sans', sans-serif" >(c)</text>
<g transform="translate(55,960) rotate(-90)"><text x="0" y="0" font-size="34" font-family="'Liberation Serif', serif" font-style="italic">k</text><text x="17" y="7" font-size="24" font-family="'Liberation Serif', serif" font-style="italic">r</text><text x="17" y="-8.5" font-size="36" font-family="'Liberation Serif', serif">+</text></g>
<line x1="990.6" y1="1098.81" x2="1004" y2="1098.81" stroke="#000" stroke-width="1.4" />
<line x1="1545.4" y1="1098.81" x2="1532" y2="1098.81" stroke="#000" stroke-width="1.4" />
<line x1="990.6" y1="1077.79" x2="1004" y2="1077.79" stroke="#000" stroke-width="1.4" />
<line x1="1545.4" y1="1077.79" x2="1532" y2="1077.79" stroke="#000" stroke-width="1.4" />
<line x1="990.6" y1="1067.02" x2="1004" y2="1067.02" stroke="#000" stroke-width="1.4" />
<line x1="1545.4" y1="1067.02" x2="1532" y2="1067.02" stroke="#000" stroke-width="1.4" />
<line x1="990.6" y1="1061.9" x2="1016.9" y2="1061.9" stroke="#000" stroke-width="1.4" />
<line x1="1545.4" y1="1061.9" x2="1519.1" y2="1061.9" stroke="#000" stroke-width="1.4" />
<line x1="990.6" y1="1046.01" x2="1004" y2="1046.01" stroke="#000" stroke-width="1.4" />
<line x1="1545.4" y1="1046.01" x2="1532" y2="1046.01" stroke="#000" stroke-width="1.4" />
<line x1="990.6" y1="1024.99" x2="1004" y2="1024.99" stroke="#000" stroke-width="1.4" />
<line x1="1545.4" y1="1024.99" x2="1532" y2="1024.99" stroke="#000" stroke-width="1.4" />
<line x1="990.6" y1="1014.22" x2="1004" y2="1014.22" stroke="#000" stroke-width="1.4" />
<line x1="1545.4" y1="1014.22" x2="1532" y2="1014.22" stroke="#000" stroke-width="1.4" />
<line x1="990.6" y1="1009.1" x2="1016.9" y2="1009.1" stroke="#000" stroke-width="1.4" />
<line x1="1545.4" y1="1009.1" x2="1519.1" y2="1009.1" stroke="#000" stroke-width="1.4" />
<line x1="990.6" y1="993.21" x2="1004" y2="993.21" stroke="#000" stroke-width="1.4" />
<line x1="1545.4" y1="993.21" x2="1532" y2="993.21" stroke="#000" stroke-width="1.4" />
<line x1="990.6" y1="972.19" x2="1004" y2="972.19" stroke="#000" stroke-width="1.4" />
<line x1="1545.4" y1="972.19" x2="1532" y2="972.19" stroke="#000" stroke-width="1.4" />
<line x1="990.6" y1="961.42" x2="1004" y2="961.42" stroke="#000" stroke-width="1.4" />
<line x1="1545.4" y1="961.42" x2="1532" y2="961.42" stroke="#000" stroke-width="1.4" />
<line x1="990.6" y1="956.3" x2="1016.9" y2="956.3" stroke="#000" stroke-width="1.4" />
<line x1="1545.4" y1="956.3" x2="1519.1" y2="956.3" stroke="#000" stroke-width="1.4" />
<line x1="990.6" y1="940.41" x2="1004" y2="940.41" stroke="#000" stroke-width="1.4" />
<line x1="1545.4" y1="940.41" x2="1532" y2="940.41" stroke="#000" stroke-width="1.4" />
<line x1="990.6" y1="919.39" x2="1004" y2="919.39" stroke="#000" stroke-width="1.4" />
<line x1="1545.4" y1="919.39" x2="1532" y2="919.39" stroke="#000" stroke-width="1.4" />
<line x1="990.6" y1="908.62" x2="1004" y2="908.62" stroke="#000" stroke-width="1.4" />
<line x1="1545.4" y1="908.62" x2="1532" y2="908.62" stroke="#000" stroke-width="1.4" />
<line x1="990.6" y1="903.5" x2="1016.9" y2="903.5" stroke="#000" stroke-width="1.4" />
<line x1="1545.4" y1="903.5" x2="1519.1" y2="903.5" stroke="#000" stroke-width="1.4" />
<line x1="990.6" y1="887.61" x2="1004" y2="887.61" stroke="#000" stroke-width="1.4" />
<line x1="1545.4" y1="887.61" x2="1532" y2="887.61" stroke="#000" stroke-width="1.4" />
<line x1="990.6" y1="866.59" x2="1004" y2="866.59" stroke="#000" stroke-width="1.4" />
<line x1="1545.4" y1="866.59" x2="1532" y2="866.59" stroke="#000" stroke-width="1.4" />
<line x1="990.6" y1="855.82" x2="1004" y2="855.82" stroke="#000" stroke-width="1.4" />
<line x1="1545.4" y1="855.82" x2="1532" y2="855.82" stroke="#000" stroke-width="1.4" />
<line x1="990.6" y1="850.7" x2="1016.9" y2="850.7" stroke="#000" stroke-width="1.4" />
<line x1="1545.4" y1="850.7" x2="1519.1" y2="850.7" stroke="#000" stroke-width="1.4" />
<line x1="990.6" y1="834.81" x2="1004" y2="834.81" stroke="#000" stroke-width="1.4" />
<line x1="1545.4" y1="834.81" x2="1532" y2="834.81" stroke="#000" stroke-width="1.4" />
<line x1="990.6" y1="813.79" x2="1004" y2="813.79" stroke="#000" stroke-width="1.4" />
<line x1="1545.4" y1="813.79" x2="1532" y2="813.79" stroke="#000" stroke-width="1.4" />
<line x1="990.6" y1="803.02" x2="1004" y2="803.02" stroke="#000" stroke-width="1.4" />
<line x1="1545.4" y1="803.02" x2="1532" y2="803.02" stroke="#000" stroke-width="1.4" />
<line x1="990.6" y1="797.9" x2="1016.9" y2="797.9" stroke="#000" stroke-width="1.4" />
<line x1="1545.4" y1="797.9" x2="1519.1" y2="797.9" stroke="#000" stroke-width="1.4" />
<line x1="990.6" y1="782.01" x2="1004" y2="782.01" stroke="#000" stroke-width="1.4" />
<line x1="1545.4" y1="782.01" x2="1532" y2="782.01" stroke="#000" stroke-width="1.4" />
<line x1="990.6" y1="760.99" x2="1004" y2="760.99" stroke="#000" stroke-width="1.4" />
<line x1="1545.4" y1="760.99" x2="1532" y2="760.99" stroke="#000" stroke-width="1.4" />
<line x1="990.6" y1="750.22" x2="1004" y2="750.22" stroke="#000" stroke-width="1.4" />
<line x1="1545.4" y1="750.22" x2="1532" y2="750.22" stroke="#000" stroke-width="1.4" />
<line x1="1052.24" y1="1114.7" x2="1052.24" y2="1089.2" stroke="#000" stroke-width="1.4" />
<line x1="1052.24" y1="745.1" x2="1052.24" y2="770.6" stroke="#000" stroke-width="1.4" />
<line x1="1113.89" y1="1114.7" x2="1113.89" y2="1089.2" stroke="#000" stroke-width="1.4" />
<line x1="1113.89" y1="745.1" x2="1113.89" y2="770.6" stroke="#000" stroke-width="1.4" />
<line x1="1175.53" y1="1114.7" x2="1175.53" y2="1089.2" stroke="#000" stroke-width="1.4" />
<line x1="1175.53" y1="745.1" x2="1175.53" y2="770.6" stroke="#000" stroke-width="1.4" />
<line x1="1237.18" y1="1114.7" x2="1237.18" y2="1089.2" stroke="#000" stroke-width="1.4" />
<line x1="1237.18" y1="745.1" x2="1237.18" y2="770.6" stroke="#000" stroke-width="1.4" />
<line x1="1298.82" y1="1114.7" x2="1298.82" y2="1089.2" stroke="#000" stroke-width="1.4" />
<line x1="1298.82" y1="745.1" x2="1298.82" y2="770.6" stroke="#000" stroke-width="1.4" />
<line x1="1360.47" y1="1114.7" x2="1360.47" y2="1089.2" stroke="#000" stroke-width="1.4" />
<line x1="1360.47" y1="745.1" x2="1360.47" y2="770.6" stroke="#000" stroke-width="1.4" />
<line x1="1422.11" y1="1114.7" x2="1422.11" y2="1089.2" stroke="#000" stroke-width="1.4" />
<line x1="1422.11" y1="745.1" x2="1422.11" y2="770.6" stroke="#000" stroke-width="1.4" />
<line x1="1483.76" y1="1114.7" x2="1483.76" y2="1089.2" stroke="#000" stroke-width="1.4" />
<line x1="1483.76" y1="745.1" x2="1483.76" y2="770.6" stroke="#000" stroke-width="1.4" />
<line x1="1021.42" y1="1114.7" x2="1021.42" y2="745.1" stroke="#b3b3b3" stroke-width="4.3" stroke-dasharray="3.8 6.55" stroke-linecap="round"/>
<polyline points="993.68,1114.7 993.68,831.16 996.76,812.68 999.85,811.1 1002.93,809.52 1006.01,807.4 1009.09,804.24 1012.18,801.6 1015.26,799.48 1018.34,796.84 1021.42,823.24 1024.5,810.57 1027.59,821.66 1030.67,828.52 1033.75,820.08 1036.83,824.3 1039.92,828.52 1043,821.66 1046.08,815.85 1049.16,819.02 1052.24,817.96 1055.33,835.39 1058.41,824.3 1061.49,821.66 1064.57,820.6 1067.66,823.24 1070.74,826.94 1073.82,829.58 1076.9,838.03 1079.98,823.24 1083.07,832.22 1086.15,836.44 1089.23,832.22 1092.31,829.58 1095.4,827.47 1098.48,830.64 1101.56,829.58 1104.64,826.94 1107.72,822.19 1110.81,835.39 1113.89,832.22 1116.97,834.86 1120.05,838.03 1123.14,835.92 1126.22,837.5 1129.3,840.14 1132.38,841.2 1135.46,842.78 1138.55,838.03 1141.63,850.17 1144.71,845.42 1147.79,860.73 1150.88,850.7 1153.96,848.06 1157.04,853.34 1160.12,843.84 1163.2,855.98 1166.29,858.62 1169.37,853.34 1172.45,848.59 1175.53,867.07 1178.62,861.26 1181.7,860.2 1184.78,866.54 1187.86,863.9 1190.94,874.46 1194.03,871.82 1197.11,863.9 1200.19,858.09 1203.27,866.54 1206.36,861.26 1209.44,877.1 1212.52,874.46 1215.6,879.74 1218.68,882.38 1221.77,883.96 1224.85,879.74 1227.93,874.46 1231.01,882.38 1234.1,885.02 1237.18,887.13 1240.26,882.38 1243.34,887.66 1246.42,885.02 1249.51,889.77 1252.59,887.66 1255.67,882.38 1258.75,877.1 1261.84,882.38 1264.92,889.24 1268,885.02 1271.08,887.66 1274.16,870.24 1277.25,896.11 1280.33,887.66 1283.41,895.58 1286.49,899.28 1289.58,874.46 1292.66,907.2 1295.74,900.86 1298.82,895.58 1301.9,890.3 1304.99,886.6 1308.07,902.44 1311.15,892.94 1314.23,894.52 1317.32,892.94 1320.4,897.16 1323.48,908.25 1326.56,903.5 1329.64,906.14 1332.73,910.89 1335.81,903.5 1338.89,898.75 1341.97,895.58 1345.06,898.22 1348.14,891.88 1351.22,895.58 1354.3,900.86 1357.38,907.2 1360.47,903.5 1363.55,906.14 1366.63,908.25 1369.71,911.42 1372.8,917.23 1375.88,930.96 1378.96,916.7 1382.04,919.34 1385.12,913.53 1388.21,925.15 1391.29,924.62 1394.37,945.74 1397.45,929.9 1400.54,889.77 1403.62,923.04 1406.7,913.53 1409.78,929.9 1412.86,947.85 1415.95,940.46 1419.03,935.18 1422.11,953.66 1425.19,931.48 1428.28,949.96 1431.36,945.74 1434.44,939.93 1437.52,963.16 1440.6,971.08 1443.69,966.86 1446.77,972.67 1449.85,969.5 1452.93,972.14 1456.02,972.67 1459.1,953.66 1462.18,969.5 1465.26,981.12 1468.34,971.08 1471.43,974.78 1474.51,945.74 1477.59,976.89 1480.67,1037.61 1483.76,1085.66 1486.84,1111.53 1489.92,1076.68 1493,1068.24" fill="none" stroke="#d65e80" stroke-width="1.6" stroke-linejoin="round"/>
<circle cx="993.68" cy="831.16" r="6" fill="#d65e80"/>
<circle cx="996.76" cy="812.68" r="6" fill="#d65e80"/>
<circle cx="999.85" cy="811.1" r="6" fill="#d65e80"/>
<circle cx="1002.93" cy="809.52" r="6" fill="#d65e80"/>
<circle cx="1006.01" cy="807.4" r="6" fill="#d65e80"/>
<circle cx="1009.09" cy="804.24" r="6" fill="#d65e80"/>
<circle cx="1012.18" cy="801.6" r="6" fill="#d65e80"/>
<circle cx="1015.26" cy="799.48" r="6" fill="#d65e80"/>
<circle cx="1018.34" cy="796.84" r="6" fill="#d65e80"/>
<circle cx="1021.42" cy="823.24" r="6" fill="#d65e80"/>
<circle cx="1024.5" cy="810.57" r="6" fill="#d65e80"/>
<circle cx="1027.59" cy="821.66" r="6" fill="#d65e80"/>
<circle cx="1030.67" cy="828.52" r="6" fill="#d65e80"/>
<circle cx="1033.75" cy="820.08" r="6" fill="#d65e80"/>
<circle cx="1036.83" cy="824.3" r="6" fill="#d65e80"/>
<circle cx="1039.92" cy="828.52" r="6" fill="#d65e80"/>
<circle cx="1043" cy="821.66" r="6" fill="#d65e80"/>
<circle cx="1046.08" cy="815.85" r="6" fill="#d65e80"/>
<circle cx="1049.16" cy="819.02" r="6" fill="#d65e80"/>
<circle cx="1052.24" cy="817.96" r="6" fill="#d65e80"/>
<circle cx="1055.33" cy="835.39" r="6" fill="#d65e80"/>
<circle cx="1058.41" cy="824.3" r="6" fill="#d65e80"/>
<circle cx="1061.49" cy="821.66" r="6" fill="#d65e80"/>
<circle cx="1064.57" cy="820.6" r="6" fill="#d65e80"/>
<circle cx="1067.66" cy="823.24" r="6" fill="#d65e80"/>
<circle cx="1070.74" cy="826.94" r="6" fill="#d65e80"/>
<circle cx="1073.82" cy="829.58" r="6" fill="#d65e80"/>
<circle cx="1076.9" cy="838.03" r="6" fill="#d65e80"/>
<circle cx="1079.98" cy="823.24" r="6" fill="#d65e80"/>
<circle cx="1083.07" cy="832.22" r="6" fill="#d65e80"/>
<circle cx="1086.15" cy="836.44" r="6" fill="#d65e80"/>
<circle cx="1089.23" cy="832.22" r="6" fill="#d65e80"/>
<circle cx="1092.31" cy="829.58" r="6" fill="#d65e80"/>
<circle cx="1095.4" cy="827.47" r="6" fill="#d65e80"/>
<circle cx="1098.48" cy="830.64" r="6" fill="#d65e80"/>
<circle cx="1101.56" cy="829.58" r="6" fill="#d65e80"/>
<circle cx="1104.64" cy="826.94" r="6" fill="#d65e80"/>
<circle cx="1107.72" cy="822.19" r="6" fill="#d65e80"/>
<circle cx="1110.81" cy="835.39" r="6" fill="#d65e80"/>
<circle cx="1113.89" cy="832.22" r="6" fill="#d65e80"/>
<circle cx="1116.97" cy="834.86" r="6" fill="#d65e80"/>
<circle cx="1120.05" cy="838.03" r="6" fill="#d65e80"/>
<circle cx="1123.14" cy="835.92" r="6" fill="#d65e80"/>
<circle cx="1126.22" cy="837.5" r="6" fill="#d65e80"/>
<circle cx="1129.3" cy="840.14" r="6" fill="#d65e80"/>
<circle cx="1132.38" cy="841.2" r="6" fill="#d65e80"/>
<circle cx="1135.46" cy="842.78" r="6" fill="#d65e80"/>
<circle cx="1138.55" cy="838.03" r="6" fill="#d65e80"/>
<circle cx="1141.63" cy="850.17" r="6" fill="#d65e80"/>
<circle cx="1144.71" cy="845.42" r="6" fill="#d65e80"/>
<circle cx="1147.79" cy="860.73" r="6" fill="#d65e80"/>
<circle cx="1150.88" cy="850.7" r="6" fill="#d65e80"/>
<circle cx="1153.96" cy="848.06" r="6" fill="#d65e80"/>
<circle cx="1157.04" cy="853.34" r="6" fill="#d65e80"/>
<circle cx="1160.12" cy="843.84" r="6" fill="#d65e80"/>
<circle cx="1163.2" cy="855.98" r="6" fill="#d65e80"/>
<circle cx="1166.29" cy="858.62" r="6" fill="#d65e80"/>
<circle cx="1169.37" cy="853.34" r="6" fill="#d65e80"/>
<circle cx="1172.45" cy="848.59" r="6" fill="#d65e80"/>
<circle cx="1175.53" cy="867.07" r="6" fill="#d65e80"/>
<circle cx="1178.62" cy="861.26" r="6" fill="#d65e80"/>
<circle cx="1181.7" cy="860.2" r="6" fill="#d65e80"/>
<circle cx="1184.78" cy="866.54" r="6" fill="#d65e80"/>
<circle cx="1187.86" cy="863.9" r="6" fill="#d65e80"/>
<circle cx="1190.94" cy="874.46" r="6" fill="#d65e80"/>
<circle cx="1194.03" cy="871.82" r="6" fill="#d65e80"/>
<circle cx="1197.11" cy="863.9" r="6" fill="#d65e80"/>
<circle cx="1200.19" cy="858.09" r="6" fill="#d65e80"/>
<circle cx="1203.27" cy="866.54" r="6" fill="#d65e80"/>
<circle cx="1206.36" cy="861.26" r="6" fill="#d65e80"/>
<circle cx="1209.44" cy="877.1" r="6" fill="#d65e80"/>
<circle cx="1212.52" cy="874.46" r="6" fill="#d65e80"/>
<circle cx="1215.6" cy="879.74" r="6" fill="#d65e80"/>
<circle cx="1218.68" cy="882.38" r="6" fill="#d65e80"/>
<circle cx="1221.77" cy="883.96" r="6" fill="#d65e80"/>
<circle cx="1224.85" cy="879.74" r="6" fill="#d65e80"/>
<circle cx="1227.93" cy="874.46" r="6" fill="#d65e80"/>
<circle cx="1231.01" cy="882.38" r="6" fill="#d65e80"/>
<circle cx="1234.1" cy="885.02" r="6" fill="#d65e80"/>
<circle cx="1237.18" cy="887.13" r="6" fill="#d65e80"/>
<circle cx="1240.26" cy="882.38" r="6" fill="#d65e80"/>
<circle cx="1243.34" cy="887.66" r="6" fill="#d65e80"/>
<circle cx="1246.42" cy="885.02" r="6" fill="#d65e80"/>
<circle cx="1249.51" cy="889.77" r="6" fill="#d65e80"/>
<circle cx="1252.59" cy="887.66" r="6" fill="#d65e80"/>
<circle cx="1255.67" cy="882.38" r="6" fill="#d65e80"/>
<circle cx="1258.75" cy="877.1" r="6" fill="#d65e80"/>
<circle cx="1261.84" cy="882.38" r="6" fill="#d65e80"/>
<circle cx="1264.92" cy="889.24" r="6" fill="#d65e80"/>
<circle cx="1268" cy="885.02" r="6" fill="#d65e80"/>
<circle cx="1271.08" cy="887.66" r="6" fill="#d65e80"/>
<circle cx="1274.16" cy="870.24" r="6" fill="#d65e80"/>
<circle cx="1277.25" cy="896.11" r="6" fill="#d65e80"/>
<circle cx="1280.33" cy="887.66" r="6" fill="#d65e80"/>
<circle cx="1283.41" cy="895.58" r="6" fill="#d65e80"/>
<circle cx="1286.49" cy="899.28" r="6" fill="#d65e80"/>
<circle cx="1289.58" cy="874.46" r="6" fill="#d65e80"/>
<circle cx="1292.66" cy="907.2" r="6" fill="#d65e80"/>
<circle cx="1295.74" cy="900.86" r="6" fill="#d65e80"/>
<circle cx="1298.82" cy="895.58" r="6" fill="#d65e80"/>
<circle cx="1301.9" cy="890.3" r="6" fill="#d65e80"/>
<circle cx="1304.99" cy="886.6" r="6" fill="#d65e80"/>
<circle cx="1308.07" cy="902.44" r="6" fill="#d65e80"/>
<circle cx="1311.15" cy="892.94" r="6" fill="#d65e80"/>
<circle cx="1314.23" cy="894.52" r="6" fill="#d65e80"/>
<circle cx="1317.32" cy="892.94" r="6" fill="#d65e80"/>
<circle cx="1320.4" cy="897.16" r="6" fill="#d65e80"/>
<circle cx="1323.48" cy="908.25" r="6" fill="#d65e80"/>
<circle cx="1326.56" cy="903.5" r="6" fill="#d65e80"/>
<circle cx="1329.64" cy="906.14" r="6" fill="#d65e80"/>
<circle cx="1332.73" cy="910.89" r="6" fill="#d65e80"/>
<circle cx="1335.81" cy="903.5" r="6" fill="#d65e80"/>
<circle cx="1338.89" cy="898.75" r="6" fill="#d65e80"/>
<circle cx="1341.97" cy="895.58" r="6" fill="#d65e80"/>
<circle cx="1345.06" cy="898.22" r="6" fill="#d65e80"/>
<circle cx="1348.14" cy="891.88" r="6" fill="#d65e80"/>
<circle cx="1351.22" cy="895.58" r="6" fill="#d65e80"/>
<circle cx="1354.3" cy="900.86" r="6" fill="#d65e80"/>
<circle cx="1357.38" cy="907.2" r="6" fill="#d65e80"/>
<circle cx="1360.47" cy="903.5" r="6" fill="#d65e80"/>
<circle cx="1363.55" cy="906.14" r="6" fill="#d65e80"/>
<circle cx="1366.63" cy="908.25" r="6" fill="#d65e80"/>
<circle cx="1369.71" cy="911.42" r="6" fill="#d65e80"/>
<circle cx="1372.8" cy="917.23" r="6" fill="#d65e80"/>
<circle cx="1375.88" cy="930.96" r="6" fill="#d65e80"/>
<circle cx="1378.96" cy="916.7" r="6" fill="#d65e80"/>
<circle cx="1382.04" cy="919.34" r="6" fill="#d65e80"/>
<circle cx="1385.12" cy="913.53" r="6" fill="#d65e80"/>
<circle cx="1388.21" cy="925.15" r="6" fill="#d65e80"/>
<circle cx="1391.29" cy="924.62" r="6" fill="#d65e80"/>
<circle cx="1394.37" cy="945.74" r="6" fill="#d65e80"/>
<circle cx="1397.45" cy="929.9" r="6" fill="#d65e80"/>
<circle cx="1400.54" cy="889.77" r="6" fill="#d65e80"/>
<circle cx="1403.62" cy="923.04" r="6" fill="#d65e80"/>
<circle cx="1406.7" cy="913.53" r="6" fill="#d65e80"/>
<circle cx="1409.78" cy="929.9" r="6" fill="#d65e80"/>
<circle cx="1412.86" cy="947.85" r="6" fill="#d65e80"/>
<circle cx="1415.95" cy="940.46" r="6" fill="#d65e80"/>
<circle cx="1419.03" cy="935.18" r="6" fill="#d65e80"/>
<circle cx="1422.11" cy="953.66" r="6" fill="#d65e80"/>
<circle cx="1425.19" cy="931.48" r="6" fill="#d65e80"/>
<circle cx="1428.28" cy="949.96" r="6" fill="#d65e80"/>
<circle cx="1431.36" cy="945.74" r="6" fill="#d65e80"/>
<circle cx="1434.44" cy="939.93" r="6" fill="#d65e80"/>
<circle cx="1437.52" cy="963.16" r="6" fill="#d65e80"/>
<circle cx="1440.6" cy="971.08" r="6" fill="#d65e80"/>
<circle cx="1443.69" cy="966.86" r="6" fill="#d65e80"/>
<circle cx="1446.77" cy="972.67" r="6" fill="#d65e80"/>
<circle cx="1449.85" cy="969.5" r="6" fill="#d65e80"/>
<circle cx="1452.93" cy="972.14" r="6" fill="#d65e80"/>
<circle cx="1456.02" cy="972.67" r="6" fill="#d65e80"/>
<circle cx="1459.1" cy="953.66" r="6" fill="#d65e80"/>
<circle cx="1462.18" cy="969.5" r="6" fill="#d65e80"/>
<circle cx="1465.26" cy="981.12" r="6" fill="#d65e80"/>
<circle cx="1468.34" cy="971.08" r="6" fill="#d65e80"/>
<circle cx="1471.43" cy="974.78" r="6" fill="#d65e80"/>
<circle cx="1474.51" cy="945.74" r="6" fill="#d65e80"/>
<circle cx="1477.59" cy="976.89" r="6" fill="#d65e80"/>
<circle cx="1480.67" cy="1037.61" r="6" fill="#d65e80"/>
<circle cx="1483.76" cy="1085.66" r="6" fill="#d65e80"/>
<circle cx="1486.84" cy="1111.53" r="6" fill="#d65e80"/>
<circle cx="1489.92" cy="1076.68" r="6" fill="#d65e80"/>
<circle cx="1493" cy="1068.24" r="6" fill="#d65e80"/>
<rect x="990.6" y="745.1" width="554.8" height="369.6" fill="none" stroke="#000" stroke-width="1.9"/>
<text transform="translate(918.5,1123.7) scale(0.94,1)" font-size="34.5" text-anchor="end" font-family="'Liberation Serif', serif">10</text>
<text transform="translate(928.3,1113.4) scale(1.25,1)" font-size="23.5" text-anchor="middle" font-family="'Liberation Serif', serif">−</text>
<text transform="translate(950,1111.7) scale(0.94,1)" font-size="23.5" text-anchor="end" font-family="'Liberation Serif', serif">1</text>
<text transform="translate(950,1070.9) scale(0.94,1)" font-size="34.5" text-anchor="end" font-family="'Liberation Serif', serif">10<tspan font-size="23.5" dy="-12">0</tspan></text>
<text transform="translate(950,1018.1) scale(0.94,1)" font-size="34.5" text-anchor="end" font-family="'Liberation Serif', serif">10<tspan font-size="23.5" dy="-12">1</tspan></text>
<text transform="translate(950,965.3) scale(0.94,1)" font-size="34.5" text-anchor="end" font-family="'Liberation Serif', serif">10<tspan font-size="23.5" dy="-12">2</tspan></text>
<text transform="translate(950,912.5) scale(0.94,1)" font-size="34.5" text-anchor="end" font-family="'Liberation Serif', serif">10<tspan font-size="23.5" dy="-12">3</tspan></text>
<text transform="translate(950,859.7) scale(0.94,1)" font-size="34.5" text-anchor="end" font-family="'Liberation Serif', serif">10<tspan font-size="23.5" dy="-12">4</tspan></text>
<text transform="translate(950,806.9) scale(0.94,1)" font-size="34.5" text-anchor="end" font-family="'Liberation Serif', serif">10<tspan font-size="23.5" dy="-12">5</tspan></text>
<text transform="translate(950,754.1) scale(0.94,1)" font-size="34.5" text-anchor="end" font-family="'Liberation Serif', serif">10<tspan font-size="23.5" dy="-12">6</tspan></text>
<text transform="translate(990.6,1167) scale(0.9,1)" font-size="33" text-anchor="middle" font-family="'Liberation Sans', sans-serif" >0</text>
<text transform="translate(1052.24,1167) scale(0.9,1)" font-size="33" text-anchor="middle" font-family="'Liberation Sans', sans-serif" >20</text>
<text transform="translate(1113.89,1167) scale(0.9,1)" font-size="33" text-anchor="middle" font-family="'Liberation Sans', sans-serif" >40</text>
<text transform="translate(1175.53,1167) scale(0.9,1)" font-size="33" text-anchor="middle" font-family="'Liberation Sans', sans-serif" >60</text>
<text transform="translate(1237.18,1167) scale(0.9,1)" font-size="33" text-anchor="middle" font-family="'Liberation Sans', sans-serif" >80</text>
<text transform="translate(1298.82,1167) scale(0.9,1)" font-size="33" text-anchor="middle" font-family="'Liberation Sans', sans-serif" >100</text>
<text transform="translate(1360.47,1167) scale(0.9,1)" font-size="33" text-anchor="middle" font-family="'Liberation Sans', sans-serif" >120</text>
<text transform="translate(1422.11,1167) scale(0.9,1)" font-size="33" text-anchor="middle" font-family="'Liberation Sans', sans-serif" >140</text>
<text transform="translate(1483.76,1167) scale(0.9,1)" font-size="33" text-anchor="middle" font-family="'Liberation Sans', sans-serif" >160</text>
<text transform="translate(1545.4,1167) scale(0.9,1)" font-size="33" text-anchor="middle" font-family="'Liberation Sans', sans-serif" >180</text>
<text transform="translate(1267.7,1231) scale(1.0,1)" font-size="31.6" text-anchor="middle" font-family="'Liberation Sans', sans-serif" >country rank</text>
<text transform="translate(1261.7,1314.7) scale(0.96,1)" font-size="54" text-anchor="middle" font-family="'Liberation Sans', sans-serif" >(d)</text>
<g transform="translate(819,998) rotate(-90)"><text x="0" y="0" font-size="31" font-family="'Liberation Sans', sans-serif">weight</text><text transform="translate(98.5,0) scale(1.25,1)" font-size="32" font-family="'Liberation Serif', serif" font-style="italic">w</text><text x="124" y="4.5" font-size="22" font-family="'Liberation Serif', serif" font-style="italic">i</text></g>
</svg></body></html>
